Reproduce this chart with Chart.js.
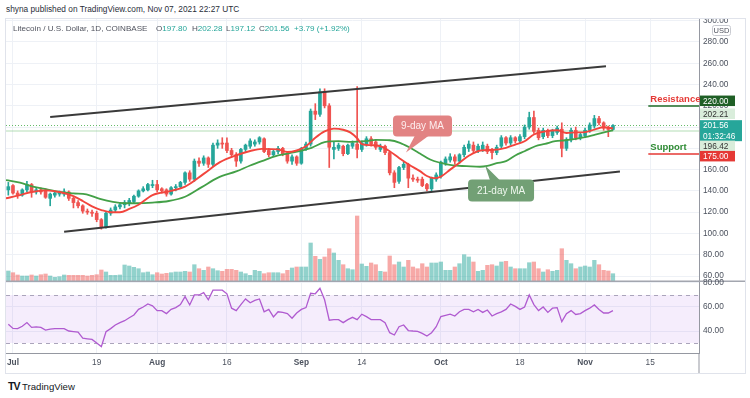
<!DOCTYPE html>
<html>
<head>
<meta charset="utf-8">
<title>Litecoin / U.S. Dollar, 1D</title>
<script src="https://cdn.jsdelivr.net/npm/chart.js@4.4.1/dist/chart.umd.min.js"></script>
<style>
    html, body { margin: 0; padding: 0; background: #fff; }
    body { position: relative; width: 750px; height: 398px; overflow: hidden; font-family: "Liberation Sans", Arial, sans-serif; }
    #frame { position: absolute; left: 5px; top: 18px; width: 741px; height: 356px; box-sizing: border-box; border: 1px solid #e0e3eb; }
    canvas { position: absolute; left: 6px; }
    #priceChart { top: 19px; }
    #rsiChart { top: 272px; }
    .txt { position: absolute; white-space: nowrap; line-height: 10px; }
    .leg { top: 24px; font-size: 8.1px; color: #50535e; z-index: 2; }
    .leg span { color: #26a69a; }
</style>
</head>
<body>
<div id="frame"></div>
<div class="txt" style="left:6px;top:4px;font-size:8.3px;color:#2a2e39">shyna published on TradingView.com, Nov 07, 2021 22:27 UTC</div>
<canvas id="priceChart" width="739" height="272"></canvas>
<canvas id="rsiChart" width="739" height="102"></canvas>
<div class="txt leg" style="left:13px">Litecoin / U.S. Dollar, 1D, COINBASE</div>
<div class="txt leg" id="legO" style="left:156px"></div>
<div class="txt leg" id="legH" style="left:192px"></div>
<div class="txt leg" id="legL" style="left:226px"></div>
<div class="txt leg" id="legC" style="left:259px"></div>
<div class="txt leg" id="legChg" style="left:294px"></div>
<div class="txt" style="left:8px;top:381px;font-size:9.6px;color:#131722"><b style="font-size:10.5px;letter-spacing:-1px">TV</b>&nbsp;TradingView</div>

<script>
// Daily candles, LTC/USD (Coinbase), Jun 30 -> Nov 7 2021. Day 0 = Jul 1
const startDay = -1;
const opens = [
    141, 145, 138, 136, 141, 146, 139, 141, 140, 133, 136,
    137, 137, 139, 133, 129, 126, 121, 120, 119, 113, 106, 119, 122, 125, 127, 128, 130, 135, 140, 141, 145,
    146, 142, 141, 137, 143, 144, 148, 157, 151, 168, 166, 171, 165, 183, 185, 185, 178, 174, 168, 179, 182, 184, 186, 189, 178, 174, 177, 180, 175, 168, 172,
    166, 180, 184, 215, 212, 233, 220, 179, 180, 182, 175, 182, 184, 179, 184, 189, 186, 179, 182, 176, 157, 149, 162, 165, 152, 151, 151, 146, 142, 151,
    154, 166, 169, 172, 168, 174, 180, 183, 178, 179, 182, 178, 176, 182, 190, 185, 190, 187, 191, 200, 209, 197, 191, 197, 192, 195, 198, 180, 188, 197, 190,
    192, 197, 201, 208, 204, 200, 197.8
];
const highs = [
    148, 146, 140, 142, 149, 147, 143, 143, 142, 138, 139,
    140, 142, 140, 134, 131, 127, 123, 122, 121, 114, 120, 124, 127, 129, 131, 133, 136, 141, 144, 147, 150,
    150, 143, 142, 144, 146, 149, 158, 159, 170, 171, 173, 172, 185, 188, 190, 190, 180, 176, 180, 184, 189, 188, 191, 190, 180, 179, 182, 181, 177, 174, 173,
    181, 186, 217, 222, 236, 236, 222, 186, 185, 183, 184, 187, 238, 187, 191, 191, 188, 184, 183, 177, 159, 163, 167, 166, 155, 153, 153, 147, 153, 157,
    168, 172, 175, 174, 175, 183, 187, 186, 184, 186, 184, 180, 183, 192, 191, 192, 191, 193, 202, 214, 215, 199, 199, 198, 198, 201, 204, 190, 199, 200, 195,
    199, 204, 211, 210, 205, 201, 202.28
];
const lows = [
    136, 137, 133, 135, 139, 134, 137, 137, 133, 126, 134,
    135, 135, 131, 124, 124, 119, 118, 116, 111, 104, 105, 117, 120, 123, 124, 126, 129, 134, 139, 140, 143,
    139, 138, 135, 136, 140, 143, 146, 149, 149, 163, 164, 162, 163, 180, 180, 176, 172, 163, 166, 177, 180, 182, 184, 176, 172, 172, 175, 173, 166, 165, 164,
    165, 178, 182, 207, 210, 218, 162, 170, 178, 173, 174, 180, 171, 177, 182, 182, 179, 177, 174, 155, 143, 147, 160, 143, 149, 148, 144, 140, 140, 149,
    152, 164, 167, 165, 166, 172, 177, 176, 176, 177, 175, 170, 174, 180, 183, 183, 185, 185, 189, 198, 194, 188, 189, 190, 190, 193, 172, 178, 186, 188, 188,
    190, 195, 199, 202, 197, 191, 197.12
];
const closes = [
    144, 138, 136, 141, 146, 139, 141, 139, 134, 137, 138,
    138, 139, 133, 129, 126, 121, 120, 119, 113, 106, 119, 122, 125, 127, 129, 131, 135, 140, 142, 146, 146,
    141, 140, 137, 143, 144, 148, 157, 151, 168, 166, 171, 165, 183, 185, 184, 178, 174, 168, 179, 183, 187, 186, 190, 177, 174, 177, 180, 175, 168, 172, 166,
    180, 184, 215, 212, 233, 220, 181, 181, 183, 175, 183, 185, 179, 185, 189, 184, 181, 182, 176, 157, 148, 162, 165, 152, 151, 150, 145, 142, 152, 155,
    167, 170, 172, 168, 174, 181, 184, 178, 182, 183, 177, 176, 181, 190, 185, 190, 187, 191, 200, 209, 196, 190, 197, 192, 196, 199, 180, 188, 197, 190, 193,
    197, 202, 208, 204, 199, 197.77, 201.56
];
// relative volume (no scale shown)
const volumes = [
    10, 8.3, 6, 5, 5, 6, 5, 6.3, 7, 5, 3.7,
    4.3, 6, 5.7, 5.7, 5.7, 5.7, 5, 5.7, 6.3, 11, 9, 5.7, 5.7, 6, 16, 15, 13.7, 12.3, 8.3, 9, 6.3,
    8.3, 7, 7.7, 8.3, 9, 9, 9.7, 9, 16.3, 12.3, 10.7, 14, 12.3, 10.3, 9.7, 11.7, 11.7, 10.7, 9, 7.3, 5.7, 10.7, 9.7, 7.3, 8.3, 8.3, 8.3, 7.3, 10.7, 13, 14,
    14, 14, 38, 24.7, 21.7, 24, 32.3, 28, 20.7, 16.3, 12.3, 11.3, 65, 17, 14.7, 18, 16.3, 9.7, 9, 25, 16.3, 19, 14, 20.7, 14, 12.3, 17.3, 14, 18, 18,
    19, 10.7, 10.7, 14, 17.3, 26.3, 24, 19, 9.7, 10.7, 15.7, 16.3, 15, 19, 19.7, 14, 12.3, 12.3, 12.3, 18.3, 19, 12.3, 9, 11.3, 9.7, 10.7, 32.3, 20.7, 17.3, 12.3, 14,
    15, 14, 20.7, 16.3, 10.7, 10, 7.3
];
const rsiValues = [
    45.6, 42.2, 42, 44, 47, 43, 43.5, 43, 40.8, 41.5, 42,
    42, 42, 40, 39.5, 39, 34, 33.5, 33, 30, 27, 39.4, 42, 45, 47, 48.6, 51, 53.3, 58, 60, 62.5, 61,
    57, 57, 54.5, 58, 59.5, 62, 68.6, 61.7, 70, 70, 72, 66, 74, 74, 74, 71, 59, 57, 62, 66.7, 63.5, 65.5, 66.7, 56, 58, 51.7, 56, 55.6, 54.5, 50.6, 55,
    58, 59.5, 71.4, 71, 75.6, 66, 49, 49.5, 49.5, 47, 49.5, 51.4, 49.5, 54, 52, 49.5, 49.5, 49.5, 47, 38.6, 36.7, 43.6, 45, 40.4, 40, 39.7, 38, 35.8, 38.6, 43.6,
    52, 53, 54, 52.5, 56, 58, 58, 56, 58, 55.5, 57.5, 52.5, 54.5, 56, 58, 62.5, 60.5, 58, 60, 70, 62, 57, 60, 55.5, 59, 59.5, 47.8, 54.5, 57, 53.8, 54.5,
    57, 59, 61.7, 58, 55, 55, 57
];

// moving averages, sampled off the chart (day, price)
const ma9Days = [-1.5, 1, 4, 7, 10, 13, 15, 17, 19, 21, 23, 25, 27, 30, 34, 37, 41, 44.5, 48, 51, 53.5, 57, 59, 61, 63, 65, 67, 69, 71, 72.5,
    74, 75, 77, 79, 81, 83, 85, 87.5, 89, 90.5, 92, 94, 96, 98, 100.5, 103, 106, 108, 110, 112, 114.5, 117, 119, 121, 123, 125, 127, 129];
const ma9Values = [133, 135.5, 139, 140.5, 139, 135, 130.5, 125.5, 122, 120, 120, 123, 127, 136, 140, 144, 156, 167, 173.5, 177.5, 179.5, 179, 176.5, 178, 182, 190, 196, 198.5, 197.5, 195,
    189.5, 184, 183, 182, 177.3, 171, 165, 158.6, 154, 152, 153.5, 160, 166.5, 173, 178, 178.5, 180.5, 183.6, 186.7, 193, 196, 197, 194.5, 195, 195.3, 197.6, 199.8, 198.6];
const ma21Days = [-1.5, 1.5, 4.3, 7.3, 10, 13, 15.8, 18.7, 21.5, 24, 26.5, 30, 33.5, 37, 40.5, 44, 48, 51, 53.5, 57, 60.6, 64.2, 67, 70, 72.8,
    75.7, 78, 81, 83.2, 85.4, 87.5, 89.7, 91.8, 94.6, 97.5, 100.4, 102, 104, 106, 108, 110, 112.3, 114.4, 116.6, 118.7, 121, 123, 125.2, 127.3, 129];
const ma21Values = [150.2, 147.7, 144, 141.5, 139, 137.7, 136.8, 132.5, 129.6, 128.4, 128.4, 129, 130.5, 134.5, 143.3, 152.3, 158.3, 163.9, 168, 173.3, 176.4, 180.5, 185.8, 186.7, 186,
    186.7, 188, 187.6, 185.2, 180.5, 175.2, 169.5, 166.5, 163.9, 163.3, 162.7, 163.5, 166, 168, 173.3, 177.3, 182, 184.2, 186.7, 187.6, 189, 190.6, 193, 195.2, 197];

// ascending channel drawn on the chart
const upperChannelDays = [8, 127.5];
const upperChannelPrices = [209.5, 257.2];
const lowerChannelDays = [11, 130.5];
const lowerChannelPrices = [101.5, 158.3];

// axes
const tickDays = [0, 18, 31, 46, 62, 75, 92, 109, 123, 137];
const tickLabels = ['Jul', '19', 'Aug', '16', 'Sep', '14', 'Oct', '18', 'Nov', '15'];
const monthLabels = ['Jul', 'Aug', 'Sep', 'Oct', 'Nov'];
const priceTicks = [60, 80, 100, 120, 140, 160, 180, 200, 220, 240, 260, 280, 300];
const rsiTicks = [40, 60, 80];
const rsiUpper = 70, rsiLower = 30;

// levels and price-scale labels
const resistance = 220, support = 175;
const levelStartDay = 136.6;
const lastPrice = 201.56, countdown = '01:32:46';
const quoteHigh = 202.21, quoteLow = 196.42;

const xMin = -1.5, xMax = 147.5;
const UP = '#26a69a', DOWN = '#ef5350';
const GRID = '#eef1f6';
const AXIS_TEXT = '#4c525e';
const AXIS_LINE = '#9598a1';
const FONT = '"Liberation Sans", Arial, sans-serif';

function isUp(i) {
    return closes[i] >= opens[i];
}

function hLine(ctx, x1, x2, y) {
    ctx.beginPath();
    ctx.moveTo(x1, y);
    ctx.lineTo(x2, y);
    ctx.stroke();
}

function setTicks(values) {
    return function (scale) {
        scale.ticks = values.map(v => ({ value: v }));
    };
}

function toPoints(xs, ys) {
    return xs.map((x, i) => ({ x: x, y: ys[i] }));
}

// callouts pointing at the MAs: tip in data units, box/base offsets in px from the tip
const callouts = [
    { text: '9-day MA', day: 84.5, price: 176.1, box: [-13, -37, 59, 21], base: [9, 23], fill: '#e28383', color: '#fdeeee' },
    { text: '21-day MA', day: 101.5, price: 163.9, box: [-17, 14, 66, 22], base: [5, 15], fill: '#72a075', color: '#eef7ee' }
];

function drawCallout(ctx, c, xs, ys) {
    const tx = xs.getPixelForValue(c.day);
    const ty = ys.getPixelForValue(c.price);
    const bx = tx + c.box[0], by = ty + c.box[1], bw = c.box[2], bh = c.box[3];
    ctx.fillStyle = c.fill;
    ctx.beginPath();
    ctx.roundRect(bx, by, bw, bh, 4);
    ctx.fill();
    const edge = c.box[1] < 0 ? by + bh - 1 : by + 1;
    ctx.beginPath();
    ctx.moveTo(tx + c.base[0], edge);
    ctx.lineTo(tx + c.base[1], edge);
    ctx.lineTo(tx, ty);
    ctx.closePath();
    ctx.fill();
    ctx.fillStyle = c.color;
    ctx.font = '10px ' + FONT;
    ctx.textAlign = 'center';
    ctx.textBaseline = 'middle';
    ctx.fillText(c.text, bx + bw / 2, by + bh / 2 + 0.5);
}

// Price pane extras: level lines, callouts, labels on the price scale
const priceDecor = {
    id: 'priceDecor',
    beforeDatasetsDraw(chart) {
        const { ctx, chartArea: area, scales: { y } } = chart;
        ctx.save();
        ctx.strokeStyle = 'rgba(129, 199, 132, 0.3)';
        ctx.lineWidth = 2;
        hLine(ctx, area.left, area.right, Math.round(y.getPixelForValue(quoteLow)));
        ctx.strokeStyle = '#66bb6a';
        ctx.lineWidth = 1;
        ctx.setLineDash([1, 2]);
        hLine(ctx, area.left, area.right, Math.round(y.getPixelForValue(lastPrice)) + 0.5);
        ctx.restore();
    },
    afterDatasetsDraw(chart) {
        const { ctx, chartArea: area, scales: { x, y } } = chart;
        const px = x.getPixelForValue(levelStartDay);
        const levels = [
            { price: resistance, label: 'Resistance', line: '#1e6b27', text: '#e53935' },
            { price: support, label: 'Support', line: '#e53935', text: '#2e8b34' }
        ];
        ctx.save();
        levels.forEach(l => {
            const py = Math.round(y.getPixelForValue(l.price));
            ctx.strokeStyle = l.line;
            ctx.lineWidth = 1.5;
            hLine(ctx, px, area.right, py);
            ctx.fillStyle = l.text;
            ctx.font = 'bold 9.5px ' + FONT;
            ctx.textAlign = 'left';
            ctx.textBaseline = 'bottom';
            ctx.fillText(l.label, px + 2, py - 2);
        });
        callouts.forEach(c => drawCallout(ctx, c, x, y));
        ctx.restore();
    },
    afterDraw(chart) {
        const { ctx, chartArea: area, scales: { y } } = chart;
        const x0 = area.right + 1;
        const boxes = [
            { value: resistance, lines: [resistance.toFixed(2)], bg: '#1f5f26', fg: '#fff', shift: -5, w: 35 },
            { value: quoteHigh, lines: [quoteHigh.toFixed(2)], bg: '#d9eddb', fg: '#333', shift: -11, w: 35 },
            { value: lastPrice, lines: [lastPrice.toFixed(2), countdown], bg: UP, fg: '#fff', shift: 0, w: 42 },
            { value: quoteLow, lines: [quoteLow.toFixed(2)], bg: '#d9eddb', fg: '#333', shift: 15, w: 35 },
            { value: support, lines: [support.toFixed(2)], bg: '#e53935', fg: '#fff', shift: 2.5, w: 35 }
        ];
        ctx.save();
        ctx.font = '8.3px ' + FONT;
        ctx.textAlign = 'left';
        ctx.textBaseline = 'middle';
        boxes.forEach(b => {
            const cy = y.getPixelForValue(b.value) + b.shift;
            ctx.fillStyle = b.bg;
            ctx.fillRect(x0, cy - 5.25, b.w, 10.5 * b.lines.length);
            ctx.fillStyle = b.fg;
            b.lines.forEach((t, k) => ctx.fillText(t, x0 + 3, cy + k * 10.5 + 0.5));
        });
        // currency tag under the top tick
        ctx.fillStyle = '#fff';
        ctx.strokeStyle = '#c9cbd1';
        ctx.lineWidth = 1;
        ctx.beginPath();
        ctx.roundRect(x0 + 12.5, area.top + 6.5, 18, 10, 2);
        ctx.fill();
        ctx.stroke();
        ctx.fillStyle = '#50535e';
        ctx.textAlign = 'center';
        ctx.font = '7.5px ' + FONT;
        ctx.fillText('USD', x0 + 21.5, area.top + 12);
        ctx.restore();
    }
};

// RSI pane extras: 30/70 band, tick labels and pane borders
const rsiDecor = {
    id: 'rsiDecor',
    beforeDatasetsDraw(chart) {
        const { ctx, chartArea: area, scales: { y } } = chart;
        const top = y.getPixelForValue(rsiUpper);
        const bottom = y.getPixelForValue(rsiLower);
        ctx.save();
        ctx.fillStyle = 'rgba(160, 80, 225, 0.1)';
        ctx.fillRect(area.left, top, area.right - area.left, bottom - top);
        ctx.strokeStyle = '#aaa4bb';
        ctx.lineWidth = 1;
        ctx.setLineDash([4, 4]);
        hLine(ctx, area.left, area.right, Math.round(top) + 0.5);
        hLine(ctx, area.left, area.right, Math.round(bottom) + 0.5);
        ctx.restore();
    },
    afterDraw(chart) {
        const { ctx, chartArea: area, width, height, scales: { y } } = chart;
        ctx.save();
        ctx.fillStyle = '#a3a6af';
        ctx.fillRect(0, area.top - 1.5, width, 1.5);
        ctx.fillStyle = AXIS_LINE;
        ctx.fillRect(Math.round(area.right) - 0.5, area.bottom, 1, height - area.bottom - 1);
        ctx.fillStyle = AXIS_TEXT;
        ctx.font = '8.3px ' + FONT;
        ctx.textAlign = 'left';
        ctx.textBaseline = 'middle';
        rsiTicks.forEach(v => ctx.fillText(v.toFixed(2), area.right + 4, y.getPixelForValue(v)));
        ctx.restore();
    }
};

function yAxisFit(scale) {
    scale.width = 46;
    scale.paddingTop = 0;
    scale.paddingBottom = 0;
}

// Price + volume chart
function initPriceChart() {
    const candleDays = opens.map((_, i) => startDay + i);
    const ctx = document.getElementById('priceChart').getContext('2d');
    return new Chart(ctx, {
        type: 'bar',
        data: {
            datasets: [
                {
                    type: 'line', label: '9-day MA', data: toPoints(ma9Days, ma9Values),
                    borderColor: '#f2453d', borderWidth: 1.9, pointRadius: 0, cubicInterpolationMode: 'monotone', order: 0
                },
                {
                    type: 'line', label: '21-day MA', data: toPoints(ma21Days, ma21Values),
                    borderColor: '#43a047', borderWidth: 1.8, pointRadius: 0, cubicInterpolationMode: 'monotone', order: 0
                },
                {
                    type: 'line', label: 'Channel top', data: toPoints(upperChannelDays, upperChannelPrices),
                    borderColor: '#3a3a3a', borderWidth: 2, pointRadius: 0, order: 0
                },
                {
                    type: 'line', label: 'Channel bottom', data: toPoints(lowerChannelDays, lowerChannelPrices),
                    borderColor: '#3a3a3a', borderWidth: 2, pointRadius: 0, order: 0
                },
                {
                    label: 'Body', data: candleDays.map((d, i) => ({ x: d, y: [opens[i], closes[i]] })),
                    backgroundColor: c => isUp(c.dataIndex) ? UP : DOWN,
                    barThickness: 3, minBarLength: 1, grouped: false, borderWidth: 0, order: 1
                },
                {
                    label: 'Wick', data: candleDays.map((d, i) => ({ x: d, y: [lows[i], highs[i]] })),
                    backgroundColor: c => isUp(c.dataIndex) ? UP : DOWN,
                    barThickness: 1, grouped: false, borderWidth: 0, order: 2
                },
                {
                    label: 'Volume', yAxisID: 'yv', data: candleDays.map((d, i) => ({ x: d, y: volumes[i] })),
                    backgroundColor: c => isUp(c.dataIndex) ? 'rgba(38, 166, 154, 0.5)' : 'rgba(239, 83, 80, 0.5)',
                    barThickness: 3.6, grouped: false, borderWidth: 0, order: 3
                }
            ]
        },
        options: {
            responsive: false,
            devicePixelRatio: 1,
            animation: false,
            events: [],
            layout: { padding: 0 },
            plugins: { legend: { display: false }, tooltip: { enabled: false } },
            scales: {
                x: {
                    type: 'linear', min: xMin, max: xMax, offset: false,
                    grid: { color: GRID, drawTicks: false, offset: false },
                    border: { display: false },
                    ticks: { display: false },
                    afterBuildTicks: setTicks(tickDays),
                    afterFit: s => { s.height = 10; s.paddingLeft = 0; s.paddingRight = 0; }
                },
                y: {
                    position: 'right', min: 55.3, max: 301.6,
                    grid: { color: GRID, drawTicks: false },
                    border: { display: true, color: AXIS_LINE },
                    afterBuildTicks: setTicks(priceTicks),
                    ticks: { padding: 4, autoSkip: false, color: AXIS_TEXT, font: { size: 8.3, family: FONT }, callback: v => v.toFixed(2) },
                    afterFit: yAxisFit
                },
                yv: { display: false, min: 0, max: 262 }
            }
        },
        plugins: [priceDecor]
    });
}

// RSI chart with the time axis
function initRsiChart() {
    const ctx = document.getElementById('rsiChart').getContext('2d');
    return new Chart(ctx, {
        type: 'line',
        data: {
            datasets: [{
                label: 'RSI', data: rsiValues.map((v, i) => ({ x: startDay + i, y: v })),
                borderColor: '#b05bd0', borderWidth: 1.3, pointRadius: 0, tension: 0
            }]
        },
        options: {
            responsive: false,
            devicePixelRatio: 1,
            animation: false,
            events: [],
            layout: { padding: { top: 10, left: 0, right: 0, bottom: 0 } },
            plugins: { legend: { display: false }, tooltip: { enabled: false } },
            scales: {
                x: {
                    type: 'linear', min: xMin, max: xMax,
                    grid: { color: GRID, drawTicks: false },
                    border: { display: true, color: AXIS_LINE },
                    afterBuildTicks: setTicks(tickDays),
                    ticks: {
                        padding: 5, maxRotation: 0, autoSkip: false, color: AXIS_TEXT,
                        font: c => ({ size: 8.3, family: FONT, weight: monthLabels.includes(c.tick && c.tick.label) ? 'bold' : 'normal' }),
                        callback: v => tickLabels[tickDays.indexOf(v)]
                    },
                    afterFit: s => { s.height = 21; s.paddingLeft = 0; s.paddingRight = 0; }
                },
                y: {
                    position: 'right', min: 21.7, max: 80.8,
                    grid: { color: GRID, drawTicks: false },
                    border: { display: true, color: AXIS_LINE },
                    afterBuildTicks: setTicks(rsiTicks),
                    ticks: { display: false },
                    afterFit: yAxisFit
                }
            }
        },
        plugins: [rsiDecor]
    });
}

// Legend row: values of the last candle
function fillLegend() {
    const i = closes.length - 1;
    const chg = closes[i] - closes[i - 1];
    const pct = chg / closes[i - 1] * 100;
    document.getElementById('legO').innerHTML = 'O<span>' + opens[i].toFixed(2) + '</span>';
    document.getElementById('legH').innerHTML = 'H<span>' + highs[i].toFixed(2) + '</span>';
    document.getElementById('legL').innerHTML = 'L<span>' + lows[i].toFixed(2) + '</span>';
    document.getElementById('legC').innerHTML = 'C<span>' + closes[i].toFixed(2) + '</span>';
    document.getElementById('legChg').innerHTML = '<span>+' + chg.toFixed(2) + ' (+' + pct.toFixed(2) + '%)</span>';
}

fillLegend();
initPriceChart();
initRsiChart();
</script>
</body>
</html>
